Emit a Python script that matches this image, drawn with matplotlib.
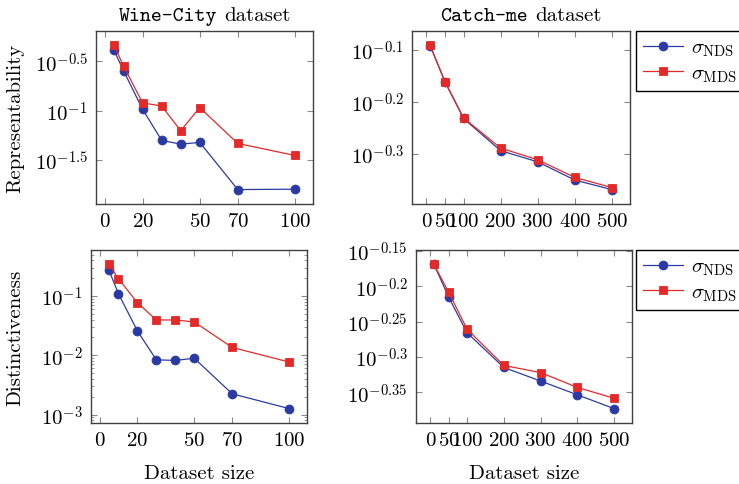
import numpy as np
import matplotlib
matplotlib.use("Agg")
import matplotlib.pyplot as plt
from matplotlib.ticker import FixedLocator, FuncFormatter, NullLocator, LogLocator, NullFormatter
from matplotlib.offsetbox import TextArea, HPacker, AnchoredOffsetbox

plt.rcParams["font.family"] = ["cmr10", "DejaVu Serif"]
plt.rcParams["mathtext.fontset"] = "cm"
plt.rcParams["axes.formatter.use_mathtext"] = True
plt.rcParams["axes.unicode_minus"] = False

# ---- data ----
wine_sizes = [5, 10, 20, 30, 40, 50, 70, 100]
catch_sizes = [10, 50, 100, 200, 300, 400, 500]

wine_rep_nds = [0.409, 0.2535, 0.1030, 0.0498, 0.0456, 0.0475, 0.01574, 0.01589]
wine_rep_mds = [0.460, 0.283, 0.1197, 0.1114, 0.0625, 0.1074, 0.0463, 0.0350]

catch_rep_nds = [0.809, 0.689, 0.586, 0.508, 0.4836, 0.4461, 0.4276]
catch_rep_mds = [0.810, 0.690, 0.5875, 0.514, 0.488, 0.4513, 0.4315]

wine_dist_nds = [0.27, 0.109, 0.0257, 0.00836, 0.0082, 0.0089, 0.00224, 0.00126]
wine_dist_mds = [0.341, 0.196, 0.077, 0.0394, 0.0394, 0.0365, 0.01355, 0.0077]

catch_dist_nds = [0.6776, 0.6089, 0.5424, 0.4844, 0.4634, 0.4431, 0.4236]
catch_dist_mds = [0.6776, 0.6188, 0.5487, 0.4875, 0.4764, 0.4539, 0.4381]

wine_xticks = [0, 20, 50, 70, 100]
catch_xticks = [0, 50, 100, 200, 300, 400, 500]

rep_wine_exp = [-0.5, -1, -1.5]
rep_catch_exp = [-0.1, -0.2, -0.3]
dist_wine_exp = [-1, -2, -3]
dist_catch_exp = [-0.15, -0.2, -0.25, -0.3, -0.35]

labels = [r"$\sigma_{\mathrm{NDS}}$", r"$\sigma_{\mathrm{MDS}}$"]

BLUE = "#2b3aa3"
RED = "#e32a28"
FS = 15

fig = plt.figure(figsize=(7.39, 4.85), dpi=100)

positions = {
    "tl": [96 / 739, 1 - 205 / 485, 217 / 739, 173 / 485],
    "tr": [412 / 739, 1 - 205 / 485, 218 / 739, 173 / 485],
    "bl": [91 / 739, 1 - 424 / 485, 216 / 739, 173 / 485],
    "br": [416 / 739, 1 - 424 / 485, 216 / 739, 173 / 485],
}


def exp_label(v, pos):
    e = np.log10(v)
    s = ("%.2f" % e).rstrip("0").rstrip(".")
    return r"$10^{%s}$" % s


def style(ax, xticks, exps, minor=False):
    ax.set_yscale("log")
    ax.margins(x=0.1, y=0.1)
    ax.xaxis.set_major_locator(FixedLocator(xticks))
    ax.yaxis.set_major_locator(FixedLocator([10.0 ** e for e in exps]))
    ax.yaxis.set_major_formatter(FuncFormatter(exp_label))
    if minor:
        ax.yaxis.set_minor_locator(LogLocator(base=10, subs=np.arange(2, 10)))
        ax.yaxis.set_minor_formatter(NullFormatter())
    else:
        ax.yaxis.set_minor_locator(NullLocator())
    ax.xaxis.set_minor_locator(NullLocator())
    ax.tick_params(which="both", direction="in", top=True, right=True,
                   color="#888888", labelsize=FS, pad=6)
    ax.tick_params(which="major", length=4, width=0.8)
    ax.tick_params(which="minor", length=2.3, width=0.6)
    for s in ax.spines.values():
        s.set_color("#404040")
        s.set_linewidth(1.0)


def plot_pair(ax, x, nds, mds):
    h1, = ax.plot(x, nds, color=BLUE, marker="o", markersize=6.4, lw=0.9,
                  markeredgewidth=0.6, label=labels[0])
    h2, = ax.plot(x, mds, color=RED, marker="s", markersize=6.4, lw=0.9,
                  markeredgewidth=0.6, label=labels[1])
    return [h1, h2]


def title(ax, name):
    box = HPacker(children=[
        TextArea(name, textprops=dict(family="cmtt10", size=FS)),
        TextArea("dataset", textprops=dict(family="cmr10", size=FS)),
    ], align="baseline", pad=0, sep=5)
    ab = AnchoredOffsetbox(loc="lower center", child=box, pad=0, borderpad=0,
                           frameon=False, bbox_to_anchor=(0.5, 1.035),
                           bbox_transform=ax.transAxes)
    ax.add_artist(ab)


ax_tl = fig.add_axes(positions["tl"])
plot_pair(ax_tl, wine_sizes, wine_rep_nds, wine_rep_mds)
style(ax_tl, wine_xticks, rep_wine_exp)
title(ax_tl, "Wine-City")
ax_tl.set_ylabel("Representability", fontsize=FS)
ax_tl.yaxis.set_label_coords(-0.33, 0.5)

ax_tr = fig.add_axes(positions["tr"])
handles = plot_pair(ax_tr, catch_sizes, catch_rep_nds, catch_rep_mds)
style(ax_tr, catch_xticks, rep_catch_exp)
title(ax_tr, "Catch-me")

ax_bl = fig.add_axes(positions["bl"])
plot_pair(ax_bl, wine_sizes, wine_dist_nds, wine_dist_mds)
style(ax_bl, wine_xticks, dist_wine_exp, minor=True)
ax_bl.set_ylabel("Distinctiveness", fontsize=FS)
ax_bl.yaxis.set_label_coords(-0.31, 0.5)
ax_bl.set_xlabel("Dataset size", fontsize=FS)
ax_bl.xaxis.set_label_coords(0.5, -0.24)

ax_br = fig.add_axes(positions["br"])
plot_pair(ax_br, catch_sizes, catch_dist_nds, catch_dist_mds)
style(ax_br, catch_xticks, dist_catch_exp)
ax_br.set_xlabel("Dataset size", fontsize=FS)
ax_br.xaxis.set_label_coords(0.5, -0.24)

for top_px in (32, 251):
    fig.legend(handles=handles, loc="upper left",
               bbox_to_anchor=(636 / 739, 1 - top_px / 485),
               fontsize=FS, frameon=True, fancybox=False, framealpha=1,
               edgecolor="black", handlelength=1.9, borderpad=0.35,
               labelspacing=0.25, handletextpad=0.4, borderaxespad=0)

fig.savefig("out.png", dpi=100)
